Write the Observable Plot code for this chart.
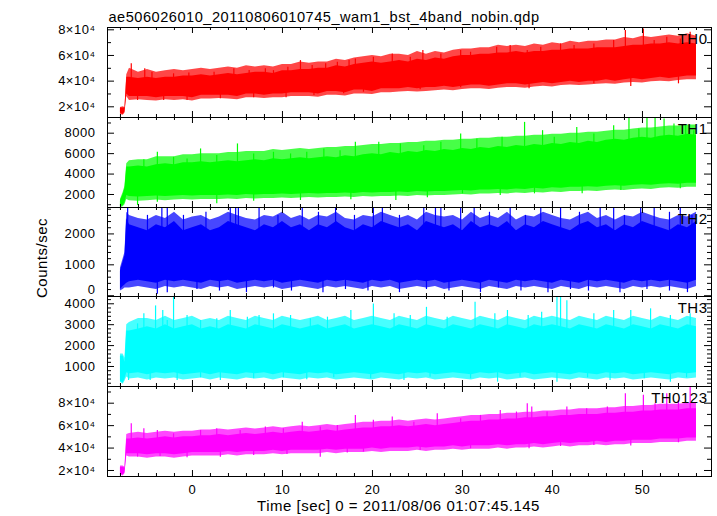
<!DOCTYPE html>
<html><head><meta charset="utf-8">
<script src="https://cdn.jsdelivr.net/npm/d3@7"></script>
<script src="https://cdn.jsdelivr.net/npm/@observablehq/plot@0.6"></script>
<style>
body{margin:0;background:#fff;}
#chart{position:relative;width:717px;height:516px;background:#fff;overflow:hidden;}
#chart svg{position:absolute;left:0;overflow:visible;}
</style></head><body><div id="chart"></div>
<script>
const titleText = "ae506026010_20110806010745_wam1_bst_4band_nobin.qdp";
const xLabel = "Time [sec] 0 = 2011/08/06 01:07:45.145";
const yLabel = "Counts/sec";
const names = ["TH0", "TH1", "TH2", "TH3", "TH0123"];

// time grid of the band envelopes (sec)
const time = [-8,-7.7,-7.5,-7.3, -7,-6,-5,-4,-3,-2,-1,0,1,2, 3,4,5,6,7,8,9,10,11,12,
  13,14,15,16,17,18,19,20,21,22, 23,24,25,26,27,28,29,30,31,32, 33,34,35,36,37,38,39,40,41,42,
  43,44,45,46,47,48,49,50,51,52, 53,54,55,56];

// ---- TH0 ----  solid core (Hi/Lo), fuzzy fringe (OutHi/OutLo), single spikes
const th0Hi = [19000,19000,19000,43000, 43000,42000,43000,42000,43000,43000,44000,44000,45000,44000,
  45000,46000,45000,46000,47000,47000,46000,48000,48000,49000, 49000,50000,50000,52000,51000,53000,54000,55000,54000,55000,
  56000,55000,57000,56000,58000,57000,59000,60000,60000,61000, 61000,62000,62000,63000,62000,63000,63000,64000,64000,65000,
  65000,65000,66000,66000,66000,67000,68000,68000,69000,69000, 70000,69000,70000,69000];
const th0Lo = [15000,14000,16000,30000, 28000,28000,28000,27000,28000,28000,28000,27000,29000,29000,
  29000,29000,28000,30000,30000,29000,30000,30000,31000,31000, 31000,30000,32000,32000,31000,33000,33000,32000,34000,34000,
  34000,35000,34000,35000,35000,36000,35000,36000,37000,37000, 36000,37000,38000,38000,37000,38000,39000,38000,39000,40000,
  39000,40000,40000,41000,40000,41000,42000,41000,42000,43000, 42000,43000,44000,44000];
const th0OutHi = [19500,20000,19500,45000, 50000,47000,49000,47000,48000,49000,48000,49000,50000,49000,
  50000,51000,50000,52000,51000,52000,51000,53000,53000,55000, 54000,55000,55000,57000,56000,58000,59000,60000,59000,61000,
  61000,60000,63000,61000,63000,62000,64000,65000,65000,66000, 66000,68000,67000,68000,67000,69000,68000,70000,69000,71000,
  70000,71000,71000,72000,72000,74000,73000,75000,74000,75000, 76000,75000,77000,75000];
const th0OutLo = [14000,13500,15000,28000, 25000,25500,25000,24500,25500,25000,25500,24500,26000,26000,
  26500,26000,25500,27000,27000,26500,27000,27000,28000,28000, 28000,27500,29000,29000,28500,30000,30000,29500,31000,31000,
  31500,32000,31500,32000,32500,33000,32500,33500,34000,34000, 33500,34500,35000,35000,34500,35500,36000,35500,36500,37000,
  36500,37000,37500,38000,37500,38500,39000,38500,39500,40000, 39500,40500,41000,41000];
const th0UpT = [-6.8,-5.3,-4.5,-2.1,-0.4,2.4,4.6,6.3,8.1,9,10.6,12,13.3,14.8,16.1,17.4,18.1,20.1,22.2,24.2,25.6,27.6,29.8,30.9,33.8,35.3,37.2,38.7,40.9,42.4,44.6,46.8,48.1,50.1,51.3,52.7,54.2,55.3];
const th0UpV = [53500,49600,46900,45700,46400,46900,49600,48200,49600,48200,50800,56000,52100,53500,54700,56000,57300,58600,61200,58600,63800,61200,63800,62500,66400,67700,63800,66400,69000,67700,69000,71600,79400,80700,71600,74200,72900,78000];
const th0DnT = [-6.1,-3.2,-0.6,3.1,6.8,10.4,13.5,16.8,19,25.3,29.8,37.4,44.6,48.7,54];
const th0DnV = [24900,24900,24900,26200,27000,27000,28800,30100,31400,33200,34800,34000,37900,35800,37900];

// ---- TH1 ----
const th1Hi = [1400,2000,2600,4700, 4700,4800,4700,4900,5000,4900,5100,5100,5200,5100,
  5200,5300,5200,5300,5400,5300,5500,5400,5500,5600, 5500,5600,5700,5600,5800,5700,5900,6000,5900,6100,
  6000,6200,6100,6300,6200,6400,6300,6500,6400,6600, 6500,6700,6600,6800,6700,6900,6800,7000,6900,7100,
  7000,7200,7100,7300,7400,7300,7500,7600,7500,7700, 7800,7700,7900,7800];
const th1Lo = [800,900,1200,1900, 1800,1750,1800,1850,1800,1850,1900,1850,1900,1900,
  1900,1950,1900,2000,1950,2000,2000,2050,2000,2050, 2100,2050,2100,2100,2150,2100,2200,2150,2200,2200,
  2250,2200,2300,2250,2300,2300,2350,2400,2350,2450, 2450,2500,2450,2550,2500,2600,2550,2650,2600,2700,
  2700,2750,2700,2800,2850,2800,2900,2950,2900,3000, 3050,3000,3100,3100];
const th1OutHi = [1500,2200,2800,5000, 5300,5400,5400,5700,5700,5700,5900,5900,6000,6000,
  6000,6100,6100,6200,6200,6200,6400,6300,6400,6500, 6400,6500,6600,6600,6700,6700,6800,6900,6900,7000,
  7000,7100,7100,7200,7200,7300,7300,7400,7400,7500, 7500,7600,7600,7700,7700,7800,7800,7900,7900,8000,
  8000,8100,8100,8200,8300,8300,8400,8500,8500,8600, 8700,8700,8800,8800];
const th1OutLo = [700,800,1000,1500, 1400,1350,1400,1450,1400,1450,1500,1450,1500,1500,
  1500,1550,1500,1600,1550,1600,1600,1650,1600,1650, 1700,1650,1700,1700,1750,1700,1800,1750,1800,1800,
  1850,1800,1900,1850,1900,1900,1950,2000,1950,2050, 2050,2100,2050,2150,2100,2200,2150,2250,2200,2300,
  2300,2350,2300,2400,2450,2400,2500,2550,2500,2600, 2650,2600,2700,2700];
const th1UpT = [-5.4,-3.9,-2.1,-0.6,0.9,2.7,5,6.8,9,10.9,12.7,14.6,16.4,18.1,20.7,23.1,25.7,27.6,29.8,31.6,34.4,36.9,38.9,40.2,42.7,44.6,46.8,48.5,49.6,50.5,51.4,52.4,53.5,54.8,55.7];
const th1UpV = [5400,6130,5640,5480,6460,5810,6950,5970,6130,5970,6130,6460,6290,7110,7110,6950,6780,7110,7920,7430,7600,9060,8250,7600,8570,7920,8740,9550,8410,9550,9550,9390,8900,8740,8250];
const th1DnT = [-6.1,-3.9,2.7,6.8,12,17.6,22.6,26.1,30,34.2,38,43.3,47.6,54.2];
const th1DnV = [930,1250,1090,1350,1410,1480,1410,1670,2065,1900,2065,2065,2390,2560];

// ---- TH2 ----
const th2Hi = [800,1100,1300,2500, 2300,2200,2100,2300,2200,2400,2100,2200,2300,2100,
  2200,2400,2300,2200,2100,2300,2200,2400,2200,2300, 2100,2300,2200,2400,2200,2100,2300,2200,2400,2300,
  2200,2300,2100,2400,2300,2200,2300,2100,2400,2200, 2300,2200,2400,2100,2300,2200,2400,2300,2200,2100,
  2300,2400,2200,2300,2100,2300,2200,2400,2300,2200, 2100,2300,2200,2400];
const th2Lo = [200,300,350,400, 450,500,450,400,500,450,500,450,400,500,
  450,500,400,450,500,450,500,400,450,500, 450,400,500,450,500,450,400,500,450,500,
  400,450,500,450,500,400,450,500,450,400, 500,450,400,500,450,500,450,400,500,450,
  400,500,450,500,450,400,500,450,500,450, 500,450,400,500];
const th2OutHi = [900,1200,1400,2700, 2600,2500,2450,2600,2500,2700,2450,2550,2600,2450,
  2550,2700,2600,2500,2450,2600,2550,2700,2500,2600, 2450,2600,2550,2700,2500,2450,2600,2550,2700,2600,
  2500,2600,2450,2700,2600,2550,2600,2450,2700,2500, 2600,2500,2700,2450,2600,2550,2700,2600,2500,2450,
  2600,2700,2500,2600,2450,2600,2550,2700,2600,2500, 2450,2600,2550,2700];
const th2OutLo = [150,200,250,250, 250,300,250,200,300,250,300,250,200,300,
  250,300,200,250,300,250,300,200,250,300, 250,200,300,250,300,250,200,300,250,300,
  200,250,300,250,300,200,250,300,250,200, 300,250,200,300,250,300,250,200,300,250,
  200,300,250,300,250,200,300,250,300,250, 300,250,200,300];
const th2UpT = [-7.2,-5,-3.4,-2.8,-1,1.5,4.2,4.8,5.1,7.4,9.5,12.2,14,15.9,18,20.1,21.1,23,25.7,27,27.6,29.8,31.3,33,35.3,37,38.7,40.9,43,45.3,46.8,48,49.8,51.3,53,54.2,55.5];
const th2UpV = [2900,2600,2900,2900,2600,2700,2900,2900,2900,2900,2600,2900,2700,2900,2600,2900,2900,2600,2900,2900,2900,2900,2900,2700,2900,2600,2900,2900,2700,2900,2900,2600,2900,2900,2700,2900,2600];
const th2DnT = [-3.9,-2.8,0.5,3,6,9,11,14.5,17,19.5,23,26,28.5,32,34,36.5,39.5,42,44,47.5,50.5,53,55];
const th2DnV = [50,100,200,150,100,250,150,100,200,150,100,200,150,100,250,150,100,200,150,100,200,150,100];

// ---- TH3 ----
const th3Hi = [1500,1500,1200,2700, 2700,2800,2900,2800,3000,2800,2900,3000,2800,2900,
  2800,3000,2900,2800,3000,2900,2800,3000,2900,2800, 2900,3000,2800,2900,3000,2800,2900,3000,2900,2800,
  3000,2900,2800,3000,2900,2800,3000,2900,2800,3000, 2900,2800,3000,2900,2800,3000,2900,3000,2900,2800,
  3000,2900,2800,3000,2900,2800,3000,2900,2800,3000, 2900,2800,3000,2900];
const th3Lo = [300,200,400,700, 650,700,600,700,650,700,600,650,700,600,
  700,650,600,700,650,700,600,700,650,600, 700,650,700,600,650,700,650,600,700,650,
  600,700,650,700,600,650,700,650,600,700, 650,700,600,650,700,600,650,700,650,600,
  700,650,600,700,650,700,600,650,700,650, 600,700,650,700];
const th3OutHi = [1600,1600,1400,3000, 3100,3300,3300,3200,3400,3200,3300,3400,3200,3300,
  3200,3400,3300,3200,3400,3300,3200,3400,3300,3200, 3300,3400,3200,3300,3400,3200,3300,3400,3300,3200,
  3400,3300,3200,3400,3300,3200,3400,3300,3200,3400, 3300,3200,3400,3300,3200,3400,3300,3400,3300,3200,
  3400,3300,3200,3400,3300,3200,3400,3300,3200,3400, 3300,3200,3400,3300];
const th3OutLo = [250,150,300,500, 400,450,350,450,400,450,350,400,450,350,
  450,400,350,450,400,450,350,450,400,350, 450,400,450,350,400,450,400,350,450,400,
  350,450,400,450,350,400,450,400,350,450, 400,450,350,400,450,350,400,450,400,350,
  450,400,350,450,400,450,350,400,450,400, 350,450,400,450];
const th3UpT = [-6.1,-5.4,-4.1,-3.3,-2.8,-2.1,-0.6,0.9,2.7,4.2,6.1,7.4,9,10.9,13.1,15,17.6,20.1,22.4,24.2,26,28.3,31.4,33.6,35,37.3,38.8,40.5,40.9,41.6,44.6,46.8,48.7,50.9,53.1,55.3];
const th3UpV = [3040,3520,3900,3680,3200,4310,3440,3200,3280,3680,3360,3440,3520,3440,3280,3360,3680,3990,3520,3440,3830,3360,4070,3520,3680,3440,3600,4400,4400,4150,3520,3680,3680,3760,3440,3520];
const th3DnT = [-7.1,-4.7,-1.7,0.9,3.1,6.8,10.1,12.7,15.7,19.8,23.5,26.4,30.9,33.9,36.4,40.5,43.9,46.4,50.2,53.1,54.9];
const th3DnV = [330,330,330,460,330,410,460,360,460,410,330,490,410,250,490,250,460,330,410,250,460];

// ---- TH0123 ----
const th0123Hi = [23000,23000,22000,48000, 48000,49000,48000,49000,50000,49000,50000,50000,51000,51000,
  52000,51000,52000,53000,52000,53000,54000,53000,54000,55000, 54000,55000,56000,55000,56000,57000,58000,58000,59000,59000,
  60000,59000,60000,61000,60000,61000,62000,63000,64000,64000, 65000,65000,66000,66000,67000,67000,68000,68000,69000,69000,
  70000,70000,70000,71000,71000,72000,72000,73000,73000,74000, 74000,74000,75000,75000];
const th0123Lo = [17000,16000,18000,35000, 35000,35000,34000,35000,35000,34000,35000,36000,36000,36000,
  36000,37000,36000,37000,37000,37000,38000,37000,38000,38000, 38000,38000,39000,38000,39000,39000,39000,40000,39000,40000,
  40000,40000,41000,40000,41000,41000,42000,41000,42000,42000, 42000,43000,42000,43000,43000,44000,43000,44000,45000,44000,
  45000,45000,46000,45000,46000,46000,47000,47000,47000,48000, 48000,48000,49000,49000];
const th0123OutHi = [24000,24000,23000,52000, 53000,54000,53000,54000,55000,54000,55000,55000,56000,56000,
  57000,56000,57000,58000,57000,58000,59000,58000,59000,60000, 59000,60000,61000,60000,61000,62000,63000,63000,64000,64000,
  65000,64000,65000,66000,65000,66000,67000,68000,69000,69000, 70000,70000,71000,71000,72000,72000,73000,73000,74000,74000,
  75000,75000,75000,76000,76000,77000,77000,78000,78000,79000, 79000,79000,80000,80000];
const th0123OutLo = [16000,15000,17000,33000, 32000,32000,31000,32000,32000,31000,32000,33000,33000,33000,
  33000,34000,33000,34000,34000,34000,35000,34000,35000,35000, 35000,35000,36000,35000,36000,36000,36000,37000,36000,37000,
  37000,37000,38000,37000,38000,38000,39000,38000,39000,39000, 39000,40000,39000,40000,40000,41000,40000,41000,42000,41000,
  42000,42000,43000,42000,43000,43000,44000,44000,44000,45000, 45000,45000,46000,46000];
const th0123UpT = [-6.8,-5.4,-3.9,-2.1,0.9,2.7,5.3,8.1,10.1,12.2,14.2,16.1,18.1,20.1,22.2,24.6,27.2,29.8,32,34.2,36,37.2,37.7,39.4,41.6,43.8,46.1,48.1,50.1,51.4,52.7,54,55.3];
const th0123UpV = [61700,57200,55700,52700,55700,57200,55700,58700,57200,63100,58700,60200,69100,64700,67700,63100,70600,66200,69100,73600,72100,79500,76600,72100,76600,75100,76600,88500,87000,79500,88500,82500,94400];
const th0123DnT = [-6.1,-3.6,-0.6,3.1,6.8,10.5,14.2,17.2,19,25.3,30.9,37.4,40.9,44.6,48.7,54];
const th0123DnV = [31900,32500,31300,31900,33400,34300,31900,35500,36400,37900,39400,39400,41400,42300,41800,44700];

// ---- ticks ----
const xMajor = [0,10,20,30,40,50];
const xMinor = [-8,-6,-4,-2,2,4,6,8,12,14,16,18,22,24,26,28,32,34,36,38,42,44,46,48,52,54,56];
const yMajor = [[20000,40000,60000,80000],[2000,4000,6000,8000],[0,1000,2000],[1000,2000,3000,4000],[20000,40000,60000,80000]];
const yMinor = [[30000,50000,70000],[1000,3000,5000,7000,9000],
  [200,400,600,800,1200,1400,1600,1800,2200,2400,2600,2800],
  [200,400,600,800,1200,1400,1600,1800,2200,2400,2600,2800,3200,3400,3600,3800,4200],
  [30000,50000,70000,90000]];

const sci = d => `${d/1e4}×10⁴`;
const plain = d => `${d}`;

const panels = [
  {lo: th0Lo, hi: th0Hi, oLo: th0OutLo, oHi: th0OutHi, upT: th0UpT, upV: th0UpV, dnT: th0DnT, dnV: th0DnV, color: "#ff0000", domain: [11660, 81790], fmt: sci, top: 27, h: 90},
  {lo: th1Lo, hi: th1Hi, oLo: th1OutLo, oHi: th1OutHi, upT: th1UpT, upV: th1UpV, dnT: th1DnT, dnV: th1DnV, color: "#00ff00", domain: [727, 9537], fmt: plain, top: 117, h: 90},
  {lo: th2Lo, hi: th2Hi, oLo: th2OutLo, oHi: th2OutHi, upT: th2UpT, upV: th2UpV, dnT: th2DnT, dnV: th2DnV, color: "#0000ff", domain: [-25, 2855], fmt: plain, top: 207, h: 89},
  {lo: th3Lo, hi: th3Hi, oLo: th3OutLo, oHi: th3OutHi, upT: th3UpT, upV: th3UpV, dnT: th3DnT, dnV: th3DnV, color: "#00ffff", domain: [43, 4349], fmt: plain, top: 296, h: 90},
  {lo: th0123Lo, hi: th0123Hi, oLo: th0123OutLo, oHi: th0123OutHi, upT: th0123UpT, upV: th0123UpV, dnT: th0123DnT, dnV: th0123DnV, color: "#ff00ff", domain: [14650, 94890], fmt: sci, top: 386, h: 90}
];

const W = 717, ML = 107, MR = 6, PW = W - ML - MR;
const font = "'Liberation Sans', Arial, Helvetica, sans-serif";
const chart = document.getElementById("chart");

function nearest(t) {
  let best = 0;
  time.forEach((u, i) => { if (Math.abs(u - t) < Math.abs(time[best] - t)) best = i; });
  return best;
}

panels.forEach((p, k) => {
  const rows = time.map((t, i) => ({t, lo: p.lo[i], hi: p.hi[i], olo: p.oLo[i], ohi: p.oHi[i]}));
  const mid = t => (p.lo[nearest(t)] + p.hi[nearest(t)]) / 2;
  const spikes = p.upT.map((t, i) => ({t, v: p.upV[i], base: mid(t)}))
    .concat(p.dnT.map((t, i) => ({t, v: p.dnV[i], base: mid(t)})));
  const zeroLabel = yMajor[k].filter(d => d === 0);
  const otherLabels = yMajor[k].filter(d => d !== 0);
  const marks = [
    Plot.areaY(rows, {x: "t", y1: "olo", y2: "ohi", fill: p.color, fillOpacity: 0.72, clip: true}),
    Plot.areaY(rows, {x: "t", y1: "lo", y2: "hi", fill: p.color, clip: true}),
    Plot.ruleX(spikes, {x: "t", y1: "base", y2: "v", stroke: p.color, strokeWidth: 1.2, clip: true}),
    Plot.frame({stroke: "black", strokeWidth: 1}),
    Plot.tickX(xMajor, {x: d => d, insetTop: p.h - 6, stroke: "black"}),
    Plot.tickX(xMajor, {x: d => d, insetBottom: p.h - 6, stroke: "black"}),
    Plot.tickX(xMinor, {x: d => d, insetTop: p.h - 3, stroke: "black"}),
    Plot.tickX(xMinor, {x: d => d, insetBottom: p.h - 3, stroke: "black"}),
    Plot.tickY(yMajor[k], {y: d => d, insetRight: PW - 7, stroke: "black"}),
    Plot.tickY(yMajor[k], {y: d => d, insetLeft: PW - 7, stroke: "black"}),
    Plot.tickY(yMinor[k], {y: d => d, insetRight: PW - 4, stroke: "black"}),
    Plot.tickY(yMinor[k], {y: d => d, insetLeft: PW - 4, stroke: "black"}),
    Plot.axisY({ticks: otherLabels, tickSize: 0, tickPadding: 12, tickFormat: p.fmt, label: null, fontSize: 13}),
    Plot.text([names[k]], {text: d => d, frameAnchor: "top-right", textAnchor: "end", lineAnchor: "bottom", dx: -4, dy: 16, fontSize: 15, fill: "black"})
  ];
  if (zeroLabel.length) {
    marks.push(Plot.axisY({ticks: zeroLabel, tickSize: 0, tickPadding: 12, tickFormat: p.fmt, label: null, fontSize: 13, dy: -6}));
  }
  if (k === 0) {
    marks.push(Plot.text([titleText], {text: d => d, frameAnchor: "top-left", textAnchor: "start", lineAnchor: "bottom", dx: 1, dy: -6, fontSize: 14.6, fill: "black"}));
  }
  if (k === 2) {
    marks.push(Plot.text([yLabel], {text: d => d, frameAnchor: "left", rotate: -90, textAnchor: "middle", dx: -65, dy: 6, fontSize: 15, fill: "black"}));
  }
  if (k === 4) {
    marks.push(Plot.axisX({ticks: xMajor, tickSize: 0, tickPadding: 8, label: null, fontSize: 13}));
    marks.push(Plot.text([xLabel], {text: d => d, frameAnchor: "bottom", textAnchor: "middle", lineAnchor: "bottom", dx: -11, dy: 34, fontSize: 15, fill: "black"}));
  }
  const svg = Plot.plot({
    width: W, height: p.h,
    marginLeft: ML, marginRight: MR, marginTop: 0, marginBottom: 0,
    x: {domain: [-9.44, 57.67], axis: null},
    y: {domain: p.domain, axis: null},
    style: {overflow: "visible", fontFamily: font, fontSize: "14px", background: "transparent", color: "black", maxWidth: "none", letterSpacing: "0.5px"},
    marks
  });
  svg.style.top = p.top + "px";
  chart.appendChild(svg);
});
</script></body></html>
